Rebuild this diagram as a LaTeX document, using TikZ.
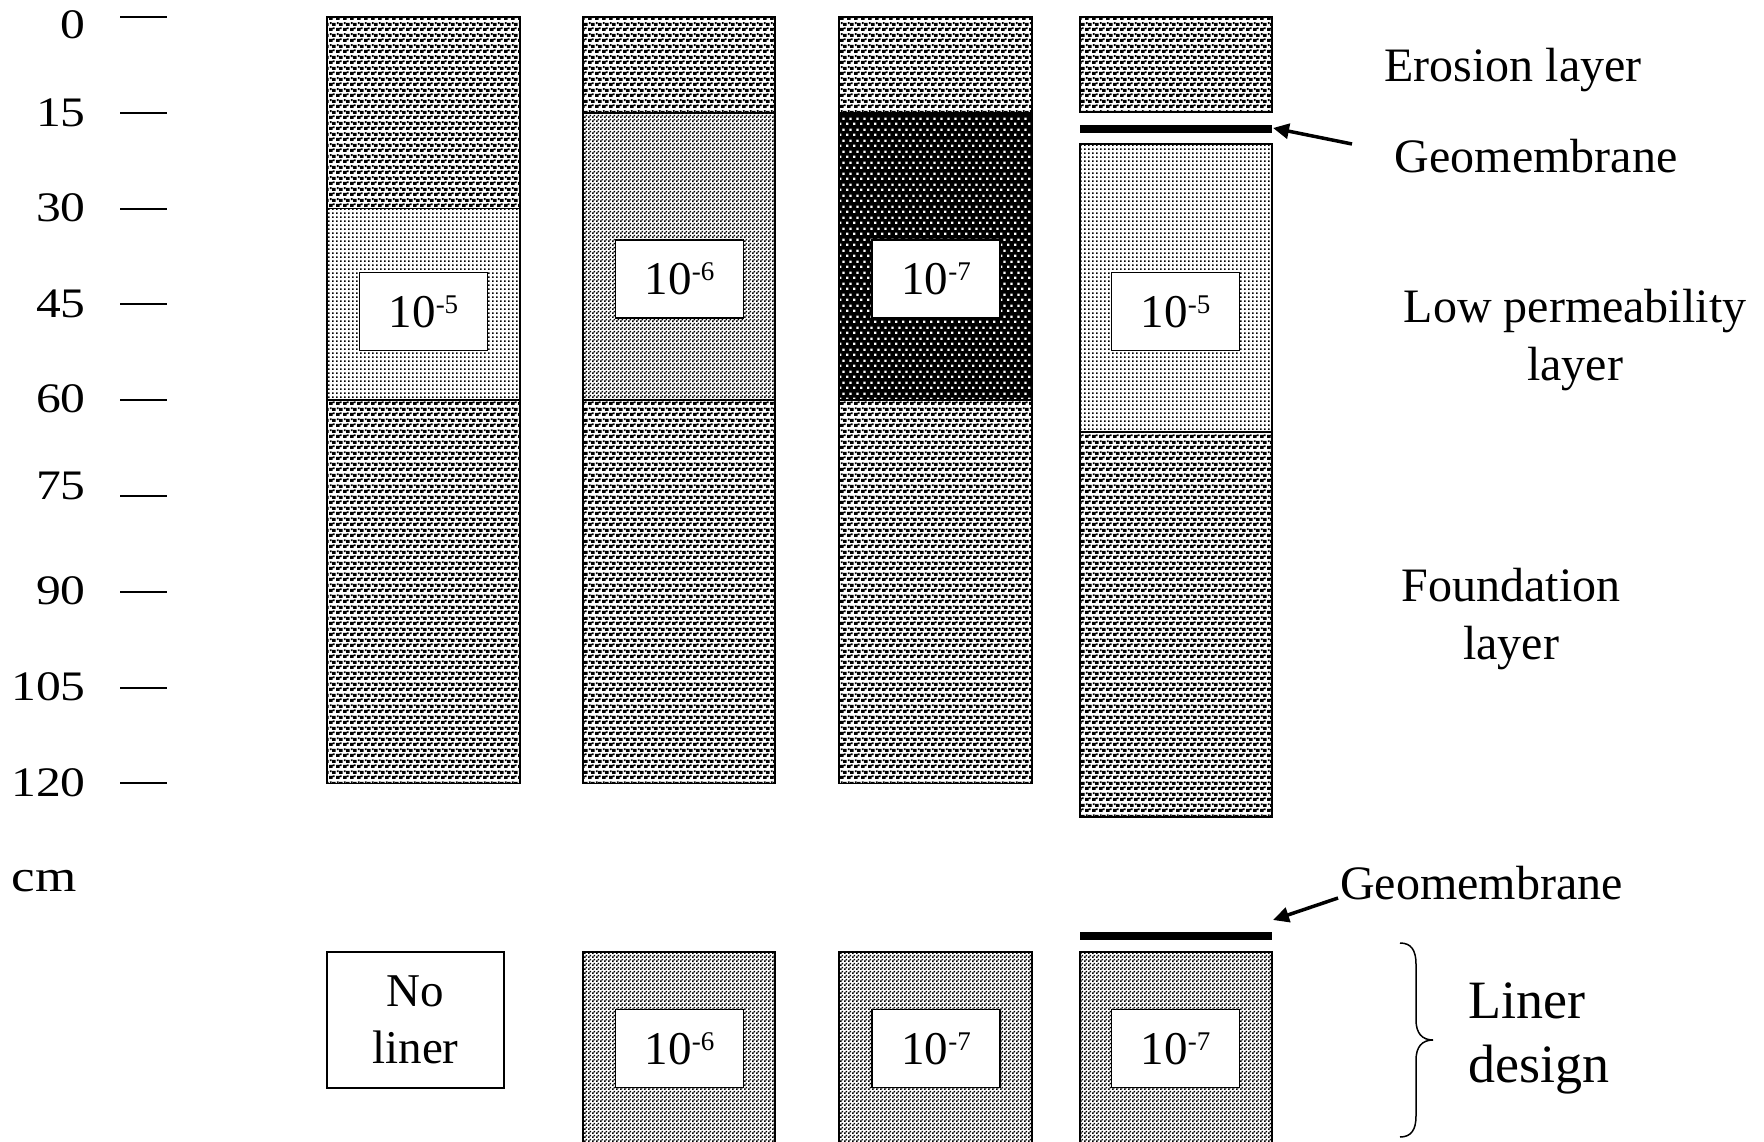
\documentclass[tikz,border=0pt]{standalone}
\usepackage{fontspec}
\setmainfont{Liberation Serif}
\usetikzlibrary{patterns,arrows.meta}
\pgfdeclarepatternformonly{erosionpat}{\pgfqpoint{0pt}{0pt}}{\pgfqpoint{7pt}{11pt}}{\pgfqpoint{7pt}{11pt}}{%
 \pgfpathrectangle{\pgfqpoint{0pt}{0pt}}{\pgfqpoint{4pt}{3.4pt}}%
 \pgfpathrectangle{\pgfqpoint{3.5pt}{5.5pt}}{\pgfqpoint{4pt}{3.4pt}}%
 \pgfpathrectangle{\pgfqpoint{4.5pt}{2pt}}{\pgfqpoint{2pt}{2pt}}%
 \pgfpathrectangle{\pgfqpoint{1pt}{7.5pt}}{\pgfqpoint{2pt}{2pt}}%
 \pgfusepath{fill}}
\pgfdeclarepatternformonly{lightdots}{\pgfqpoint{0pt}{0pt}}{\pgfqpoint{4pt}{4pt}}{\pgfqpoint{4pt}{4pt}}{%
 \pgfpathrectangle{\pgfqpoint{0pt}{0pt}}{\pgfqpoint{2pt}{2pt}}%
 \pgfusepath{fill}}
\pgfdeclarepatternformonly{checkpat}{\pgfqpoint{0pt}{0pt}}{\pgfqpoint{4pt}{4pt}}{\pgfqpoint{4pt}{4pt}}{%
 \pgfpathrectangle{\pgfqpoint{0pt}{0pt}}{\pgfqpoint{2pt}{2pt}}%
 \pgfpathrectangle{\pgfqpoint{2pt}{2pt}}{\pgfqpoint{2pt}{2pt}}%
 \pgfusepath{fill}}
\pgfdeclarepatternformonly{darkdots}{\pgfqpoint{0pt}{0pt}}{\pgfqpoint{7.3pt}{10.6pt}}{\pgfqpoint{7.3pt}{10.6pt}}{%
 \pgfpathrectangle{\pgfqpoint{0pt}{0pt}}{\pgfqpoint{2.6pt}{2.4pt}}%
 \pgfpathrectangle{\pgfqpoint{3.65pt}{5.3pt}}{\pgfqpoint{2.6pt}{2.4pt}}%
 \pgfusepath{fill}}
\newcommand{\expo}[1]{10\raisebox{14pt}{\fontsize{27}{27}\selectfont #1}}
\begin{document}
\begin{tikzpicture}[x=1pt,y=-1pt,
  layer/.style={draw=black, line width=1.5pt},
  ero/.style={layer, pattern=erosionpat},
  lperm/.style={layer, pattern=lightdots},
  chk/.style={layer, pattern=checkpat},
  labbox/.style={draw, line width=1.5pt, fill=white, minimum width=128pt, minimum height=78pt, inner sep=0pt, font=\fontsize{47}{50}\selectfont},
  tick/.style={line width=2pt},
  scalelab/.style={anchor=east, inner sep=0pt, font=\fontsize{42}{44}\selectfont, xscale=1.18},
  rlab/.style={inner sep=0pt, align=center, font=\fontsize{48}{58.5}\selectfont},
  gm/.style={line width=8pt},
  arr/.style={line width=3.5pt, -{Triangle[length=16pt,width=15pt]}}]
\useasboundingbox (0,0) rectangle (1764,1142);
\fill[white] (0,0) rectangle (1764,1142);
% depth scale
\foreach \d/\yl/\yt in {0/25/17, 15/112.5/113, 30/208/209, 45/304/304, 60/399/400, 75/486/496, 90/591/592, 105/687/688, 120/783/783}{
  \node[scalelab] (s\d) at (86,\yl) {\d};
  \draw[tick] (120,\yt) -- (167,\yt);
}
\node[scalelab, anchor=center, font=\fontsize{45}{46}\selectfont] (cm) at (44,881) {cm};
% column 1
\draw[ero] (327,17) rectangle (520,208.6);
\draw[lperm] (327,208.6) rectangle (520,400.2);
\draw[ero] (327,400.2) rectangle (520,783.3);
\node[labbox] (k1) at (423.5,311.5) {\expo{-5}};
% column 2
\draw[ero] (583,17) rectangle (775,112.8);
\draw[chk] (583,112.8) rectangle (775,400.2);
\draw[ero] (583,400.2) rectangle (775,783.3);
\node[labbox] (k2) at (679.5,279) {\expo{-6}};
% column 3
\draw[ero] (839,17) rectangle (1032,112.8);
\fill[black] (839,112.8) rectangle (1032,400.2);
\fill[pattern=darkdots, pattern color=white] (839,112.8) rectangle (1032,400.2);
\draw[layer] (839,112.8) rectangle (1032,400.2);
\draw[ero] (839,400.2) rectangle (1032,783.3);
\node[labbox] (k3) at (936,279) {\expo{-7}};
% column 4
\draw[ero] (1080,17) rectangle (1272,112);
\coordinate (gmA) at (1080,129);
\coordinate (gmB) at (1272,129);
\draw[gm] (gmA) -- (gmB);
\draw[lperm] (1080,144) rectangle (1272,432);
\draw[ero] (1080,432) rectangle (1272,817);
\node[labbox] (k4) at (1175.5,311.5) {\expo{-5}};
% right labels
\node[rlab] (ero) at (1513,70) {Erosion layer};
\node[rlab] (geo1) at (1536,156) {Geomembrane};
\node[rlab] (lowp) at (1575,340) {Low permeability\\layer};
\node[rlab] (found) at (1511,619) {Foundation\\layer};
\coordinate (a1tail) at (1352,144);
\coordinate (a1tip) at (1273,128);
\draw[arr] (a1tail) -- (a1tip);
% liner row
\node[draw, line width=1.5pt, minimum width=177pt, minimum height=136pt, inner sep=0pt, align=center, font=\fontsize{47}{57}\selectfont] (noliner) at (415.5,1020) {No\\liner};
\draw[chk] (583,952) rectangle (775,1150);
\node[labbox] (b2) at (679.5,1048.5) {\expo{-6}};
\draw[chk] (839,952) rectangle (1032,1150);
\node[labbox] (b3) at (936,1048.5) {\expo{-7}};
\draw[chk] (1080,952) rectangle (1272,1150);
\node[labbox] (b4) at (1175.5,1048.5) {\expo{-7}};
\coordinate (gmC) at (1080,936);
\coordinate (gmD) at (1272,936);
\draw[gm] (gmC) -- (gmD);
\node[rlab, anchor=west] (geo2) at (1340,883) {Geomembrane};
\coordinate (a2tail) at (1338,898);
\coordinate (a2tip) at (1273,920);
\draw[arr] (a2tail) -- (a2tip);
% brace
\coordinate (brT) at (1400,943);
\coordinate (brM) at (1433,1040);
\coordinate (brB) at (1400,1137);
\draw[line width=1.5pt] (brT) .. controls (1411,943) and (1416,950) .. (1416,964) -- (1416,1020) .. controls (1416,1033) and (1422,1040) .. (brM) .. controls (1422,1040) and (1416,1047) .. (1416,1060) -- (1416,1116) .. controls (1416,1130) and (1411,1137) .. (brB);
\node[rlab, align=left, anchor=west, font=\fontsize{54}{64}\selectfont] (liner) at (1468,1038) {Liner\\design};
\end{tikzpicture}
\end{document}
